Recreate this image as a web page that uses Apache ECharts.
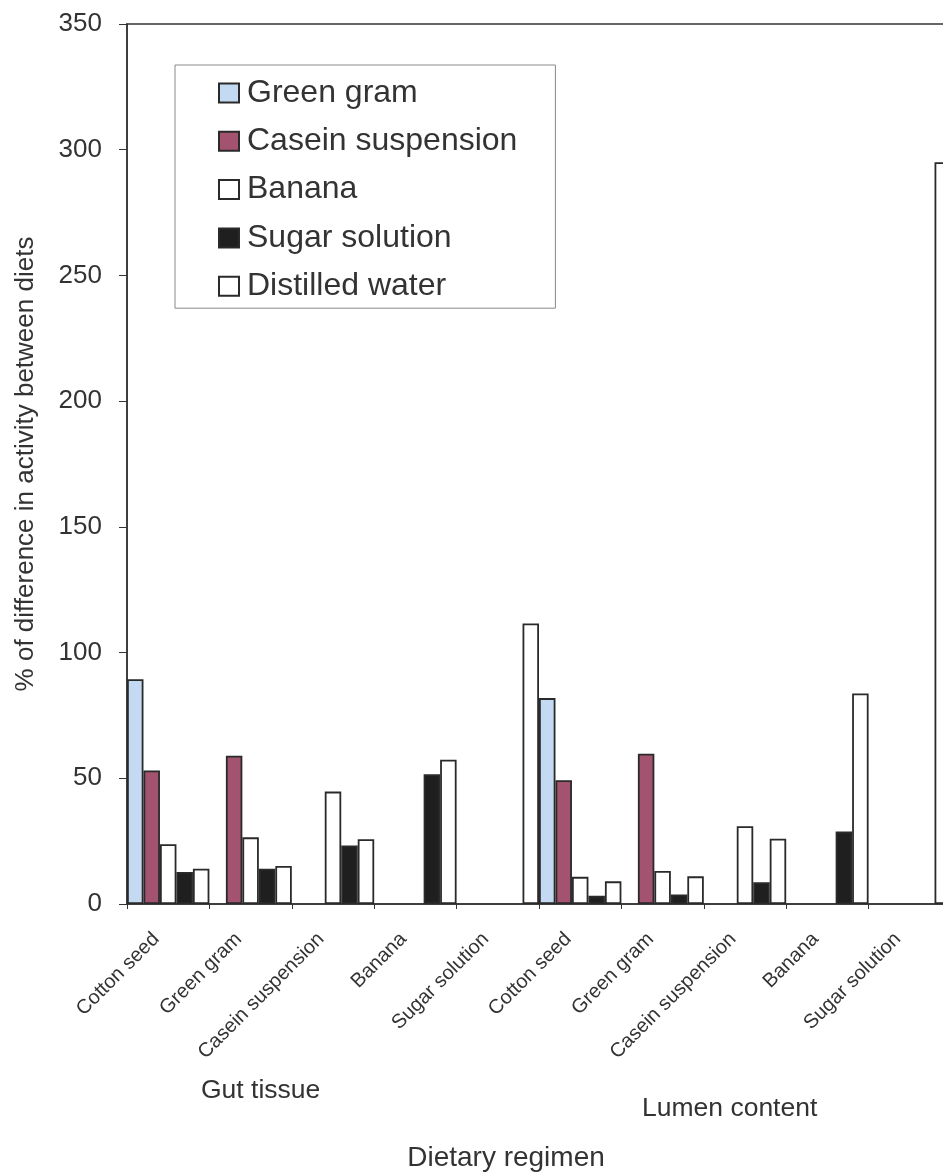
<!DOCTYPE html>
<html>
<head>
<meta charset="utf-8">
<script src="https://cdn.jsdelivr.net/npm/echarts@6/dist/echarts.min.js"></script>
<style>
html,body{margin:0;padding:0;background:#fff;}
#chart{width:943px;height:1174px;}
</style>
</head>
<body>
<div id="chart"></div>
<script>
var categories = ['Cotton seed','Green gram','Casein suspension','Banana','Sugar solution',
                  'Cotton seed','Green gram','Casein suspension','Banana','Sugar solution'];
var seriesNames = ['Green gram','Casein suspension','Banana','Sugar solution','Distilled water'];
var greenGram  = [89.4, null, null, null, null, 81.9, null, null, null, null];
var casein     = [53.1, 59.0, null, null, null, 49.2, 59.8, null, null, null];
var banana     = [23.8, 26.5, 44.7, null, null, 10.8, 13.1, 30.9, null, null];
var sugar      = [12.7, 14.0, 23.3, 51.6, null, 3.3, 3.8, 8.7, 28.8, null];
var distilled  = [14.0, 15.1, 25.8, 57.4, 111.6, 9.0, 11.0, 26.0, 83.7, 295];
var yMin = 0, yMax = 350, yStep = 50;
var groupLabels = ['Gut tissue', 'Lumen content'];
var xTitle = 'Dietary regimen';
var yTitle = '% of difference in activity between diets';

var FONT = '"Liberation Sans", Arial, sans-serif';
var TXT = '#333';
var fills = ['#c3daf2', '#a3526f', '#ffffff', '#1f1f1f', '#ffffff'];
var values = [greenGram, casein, banana, sugar, distilled];

var chart = echarts.init(document.getElementById('chart'), null, {renderer:'canvas', width:943, height:1174});

var series = seriesNames.map(function(n, i){
  return {
    name: n, type: 'bar', data: values[i],
    barGap: '0%', barCategoryGap: '0%',
    itemStyle: {color: fills[i], borderColor: '#2a2a2a', borderWidth: 1.8},
    emphasis: {disabled: true}
  };
});

chart.setOption({
  animation: false,
  backgroundColor: '#fff',
  textStyle: {fontFamily: FONT},
  grid: {left: 127, right: -8, top: 24, bottom: 270, show: true, borderColor: '#333', borderWidth: 1.5,
         backgroundColor: 'transparent', containLabel: false, outerBoundsMode: 'none'},
  legend: {
    orient: 'vertical', left: 175, top: 65,
    padding: [12, 38, 6, 43],
    itemWidth: 20, itemHeight: 19, itemGap: 16.3,
    icon: 'rect',
    selectedMode: false,
    borderColor: '#888', borderWidth: 1, backgroundColor: '#fff',
    textStyle: {fontSize: 32, lineHeight: 32, color: TXT, fontFamily: FONT, padding: [0,0,0,3]},
    data: seriesNames
  },
  xAxis: {
    type: 'category', data: categories,
    boundaryGap: true,
    axisLine: {show: true, lineStyle: {color: '#333', width: 1.5}},
    axisTick: {show: true, length: 5, alignWithLabel: false, interval: 0, lineStyle: {color: '#333'}},
    axisLabel: {interval: 0, rotate: 45, fontSize: 20, color: TXT, fontFamily: FONT, margin: 20, padding: [0, 17, 0, 0]},
    splitLine: {show: false},
    name: xTitle, nameLocation: 'middle', nameGap: 240,
    nameTextStyle: {fontSize: 28, color: TXT, fontFamily: FONT, padding: [0, 66, 0, 0]}
  },
  yAxis: {
    type: 'value', min: yMin, max: yMax, interval: yStep,
    axisLine: {show: true, lineStyle: {color: '#333', width: 1.5}},
    axisTick: {show: true, length: 8, lineStyle: {color: '#333'}},
    axisLabel: {fontSize: 26, color: TXT, fontFamily: FONT, margin: 25},
    splitLine: {show: false},
    name: yTitle, nameLocation: 'middle', nameGap: 88, nameRotate: 90,
    nameTextStyle: {fontSize: 26, color: TXT, fontFamily: FONT}
  },
  graphic: [
    {type: 'text', left: 201, top: 1077, style: {text: groupLabels[0], font: '26.5px ' + FONT, fill: TXT}},
    {type: 'text', left: 642, top: 1095, style: {text: groupLabels[1], font: '26.5px ' + FONT, fill: TXT}}
  ],
  series: series
});
</script>
</body>
</html>
